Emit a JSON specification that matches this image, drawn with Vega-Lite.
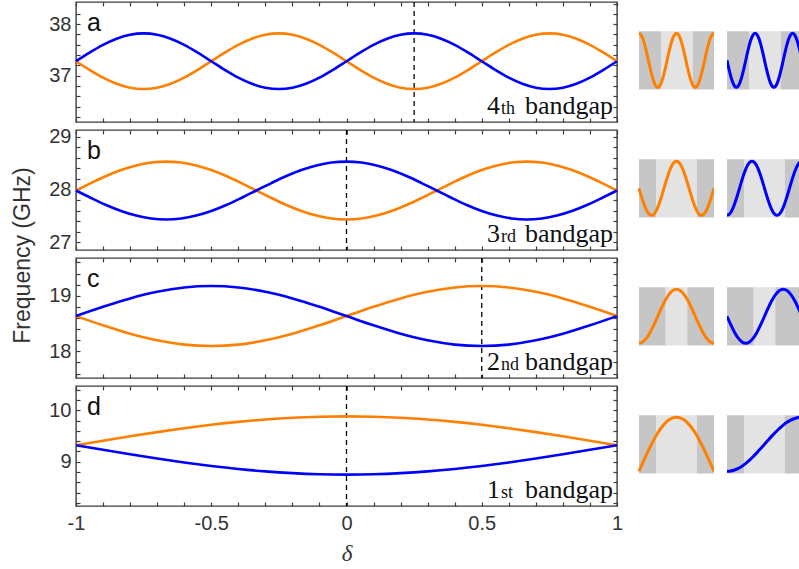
{
  "$schema": "https://vega.github.io/schema/vega-lite/v6.json",
  "padding": {"left": 11, "top": 0, "right": 0, "bottom": 0},
  "background": "white",
  "bounds": "flush",
  "columns": 3,
  "align": "each",
  "spacing": {"row": 8, "column": 13},
  "config": {
    "view": {"stroke": "#3c3c3c", "strokeWidth": 1.4},
    "axis": {"domain": false, "grid": false, "tickSize": -4, "tickColor": "#3c3c3c", "tickWidth": 1.2, "labelFont": "Liberation Sans", "labelFontSize": 20, "labelColor": "#333333", "labelPadding": 9, "titleFont": "Liberation Sans", "titleFontSize": 23, "titleFontWeight": "normal", "titleColor": "#333333", "labelFlush": false, "labelOverlap": false}
  },
  "datasets": {
    "labels": [
      {"p": "a", "letter": "a", "num": "4", "suf": "th", "gap": "bandgap", "v": 0.25},
      {"p": "b", "letter": "b", "num": "3", "suf": "rd", "gap": "bandgap", "v": 0},
      {"p": "c", "letter": "c", "num": "2", "suf": "nd", "gap": "bandgap", "v": 0.5},
      {"p": "d", "letter": "d", "num": "1", "suf": "st", "gap": "bandgap", "v": 0}
    ],
    "bands": [
      {"p":"a","d":-1,"o":37.28,"b":37.28},{"p":"a","d":-0.95,"o":37.113,"b":37.447},{"p":"a","d":-0.9,"o":36.962,"b":37.598},{"p":"a","d":-0.85,"o":36.843,"b":37.717},{"p":"a","d":-0.8,"o":36.766,"b":37.794},{"p":"a","d":-0.75,"o":36.74,"b":37.82},{"p":"a","d":-0.7,"o":36.766,"b":37.794},{"p":"a","d":-0.65,"o":36.843,"b":37.717},{"p":"a","d":-0.6,"o":36.962,"b":37.598},{"p":"a","d":-0.55,"o":37.113,"b":37.447},{"p":"a","d":-0.5,"o":37.28,"b":37.28},
      {"p":"a","d":-0.45,"o":37.447,"b":37.113},{"p":"a","d":-0.4,"o":37.598,"b":36.962},{"p":"a","d":-0.35,"o":37.717,"b":36.843},{"p":"a","d":-0.3,"o":37.794,"b":36.766},{"p":"a","d":-0.25,"o":37.82,"b":36.74},{"p":"a","d":-0.2,"o":37.794,"b":36.766},{"p":"a","d":-0.15,"o":37.717,"b":36.843},{"p":"a","d":-0.1,"o":37.598,"b":36.962},{"p":"a","d":-0.05,"o":37.447,"b":37.113},{"p":"a","d":0,"o":37.28,"b":37.28},
      {"p":"a","d":0.05,"o":37.113,"b":37.447},{"p":"a","d":0.1,"o":36.962,"b":37.598},{"p":"a","d":0.15,"o":36.843,"b":37.717},{"p":"a","d":0.2,"o":36.766,"b":37.794},{"p":"a","d":0.25,"o":36.74,"b":37.82},{"p":"a","d":0.3,"o":36.766,"b":37.794},{"p":"a","d":0.35,"o":36.843,"b":37.717},{"p":"a","d":0.4,"o":36.962,"b":37.598},{"p":"a","d":0.45,"o":37.113,"b":37.447},{"p":"a","d":0.5,"o":37.28,"b":37.28},
      {"p":"a","d":0.55,"o":37.447,"b":37.113},{"p":"a","d":0.6,"o":37.598,"b":36.962},{"p":"a","d":0.65,"o":37.717,"b":36.843},{"p":"a","d":0.7,"o":37.794,"b":36.766},{"p":"a","d":0.75,"o":37.82,"b":36.74},{"p":"a","d":0.8,"o":37.794,"b":36.766},{"p":"a","d":0.85,"o":37.717,"b":36.843},{"p":"a","d":0.9,"o":37.598,"b":36.962},{"p":"a","d":0.95,"o":37.447,"b":37.113},{"p":"a","d":1,"o":37.28,"b":37.28},
      {"p":"b","d":-1,"o":27.98,"b":27.98},{"p":"b","d":-0.9444,"o":28.122,"b":27.838},{"p":"b","d":-0.8889,"o":28.255,"b":27.705},{"p":"b","d":-0.8333,"o":28.369,"b":27.591},{"p":"b","d":-0.7778,"o":28.456,"b":27.504},{"p":"b","d":-0.7222,"o":28.511,"b":27.449},{"p":"b","d":-0.6667,"o":28.53,"b":27.43},{"p":"b","d":-0.6111,"o":28.511,"b":27.449},{"p":"b","d":-0.5556,"o":28.456,"b":27.504},{"p":"b","d":-0.5,"o":28.369,"b":27.591},{"p":"b","d":-0.4444,"o":28.255,"b":27.705},{"p":"b","d":-0.3889,"o":28.122,"b":27.838},{"p":"b","d":-0.3333,"o":27.98,"b":27.98},
      {"p":"b","d":-0.2778,"o":27.838,"b":28.122},{"p":"b","d":-0.2222,"o":27.705,"b":28.255},{"p":"b","d":-0.1667,"o":27.591,"b":28.369},{"p":"b","d":-0.1111,"o":27.504,"b":28.456},{"p":"b","d":-0.0556,"o":27.449,"b":28.511},{"p":"b","d":0,"o":27.43,"b":28.53},{"p":"b","d":0.0556,"o":27.449,"b":28.511},{"p":"b","d":0.1111,"o":27.504,"b":28.456},{"p":"b","d":0.1667,"o":27.591,"b":28.369},{"p":"b","d":0.2222,"o":27.705,"b":28.255},{"p":"b","d":0.2778,"o":27.838,"b":28.122},{"p":"b","d":0.3333,"o":27.98,"b":27.98},
      {"p":"b","d":0.3889,"o":28.122,"b":27.838},{"p":"b","d":0.4444,"o":28.255,"b":27.705},{"p":"b","d":0.5,"o":28.369,"b":27.591},{"p":"b","d":0.5556,"o":28.456,"b":27.504},{"p":"b","d":0.6111,"o":28.511,"b":27.449},{"p":"b","d":0.6667,"o":28.53,"b":27.43},{"p":"b","d":0.7222,"o":28.511,"b":27.449},{"p":"b","d":0.7778,"o":28.456,"b":27.504},{"p":"b","d":0.8333,"o":28.369,"b":27.591},{"p":"b","d":0.8889,"o":28.255,"b":27.705},{"p":"b","d":0.9444,"o":28.122,"b":27.838},{"p":"b","d":1,"o":27.98,"b":27.98},
      {"p":"c","d":-1,"o":18.635,"b":18.635},{"p":"c","d":-0.9,"o":18.468,"b":18.802},{"p":"c","d":-0.8,"o":18.317,"b":18.953},{"p":"c","d":-0.7,"o":18.198,"b":19.072},{"p":"c","d":-0.6,"o":18.121,"b":19.149},{"p":"c","d":-0.5,"o":18.095,"b":19.175},{"p":"c","d":-0.4,"o":18.121,"b":19.149},{"p":"c","d":-0.3,"o":18.198,"b":19.072},{"p":"c","d":-0.2,"o":18.317,"b":18.953},{"p":"c","d":-0.1,"o":18.468,"b":18.802},{"p":"c","d":0,"o":18.635,"b":18.635},
      {"p":"c","d":0.1,"o":18.802,"b":18.468},{"p":"c","d":0.2,"o":18.953,"b":18.317},{"p":"c","d":0.3,"o":19.072,"b":18.198},{"p":"c","d":0.4,"o":19.149,"b":18.121},{"p":"c","d":0.5,"o":19.175,"b":18.095},{"p":"c","d":0.6,"o":19.149,"b":18.121},{"p":"c","d":0.7,"o":19.072,"b":18.198},{"p":"c","d":0.8,"o":18.953,"b":18.317},{"p":"c","d":0.9,"o":18.802,"b":18.468},{"p":"c","d":1,"o":18.635,"b":18.635},
      {"p":"d","d":-1,"o":9.32,"b":9.32},{"p":"d","d":-0.9,"o":9.408,"b":9.231},{"p":"d","d":-0.8,"o":9.493,"b":9.144},{"p":"d","d":-0.7,"o":9.574,"b":9.061},{"p":"d","d":-0.6,"o":9.649,"b":8.985},{"p":"d","d":-0.5,"o":9.716,"b":8.917},{"p":"d","d":-0.4,"o":9.773,"b":8.859},{"p":"d","d":-0.3,"o":9.819,"b":8.812},{"p":"d","d":-0.2,"o":9.853,"b":8.778},{"p":"d","d":-0.1,"o":9.873,"b":8.757},{"p":"d","d":0,"o":9.88,"b":8.75},
      {"p":"d","d":0.1,"o":9.873,"b":8.757},{"p":"d","d":0.2,"o":9.853,"b":8.778},{"p":"d","d":0.3,"o":9.819,"b":8.812},{"p":"d","d":0.4,"o":9.773,"b":8.859},{"p":"d","d":0.5,"o":9.716,"b":8.917},{"p":"d","d":0.6,"o":9.649,"b":8.985},{"p":"d","d":0.7,"o":9.574,"b":9.061},{"p":"d","d":0.8,"o":9.493,"b":9.144},{"p":"d","d":0.9,"o":9.408,"b":9.231},{"p":"d","d":1,"o":9.32,"b":9.32}
    ],
    "modes": [
      {"p":"a","x":0,"o":0.93,"b":0},{"p":"a","x":0.025,"o":0.884,"b":-0.287},{"p":"a","x":0.05,"o":0.752,"b":-0.547},{"p":"a","x":0.075,"o":0.547,"b":-0.752},{"p":"a","x":0.1,"o":0.287,"b":-0.884},{"p":"a","x":0.125,"o":0,"b":-0.93},{"p":"a","x":0.15,"o":-0.287,"b":-0.884},{"p":"a","x":0.175,"o":-0.547,"b":-0.752},{"p":"a","x":0.2,"o":-0.752,"b":-0.547},{"p":"a","x":0.225,"o":-0.884,"b":-0.287},{"p":"a","x":0.25,"o":-0.93,"b":0},
      {"p":"a","x":0.275,"o":-0.884,"b":0.287},{"p":"a","x":0.3,"o":-0.752,"b":0.547},{"p":"a","x":0.325,"o":-0.547,"b":0.752},{"p":"a","x":0.35,"o":-0.287,"b":0.884},{"p":"a","x":0.375,"o":0,"b":0.93},{"p":"a","x":0.4,"o":0.287,"b":0.884},{"p":"a","x":0.425,"o":0.547,"b":0.752},{"p":"a","x":0.45,"o":0.752,"b":0.547},{"p":"a","x":0.475,"o":0.884,"b":0.287},{"p":"a","x":0.5,"o":0.93,"b":0},
      {"p":"a","x":0.525,"o":0.884,"b":-0.287},{"p":"a","x":0.55,"o":0.752,"b":-0.547},{"p":"a","x":0.575,"o":0.547,"b":-0.752},{"p":"a","x":0.6,"o":0.287,"b":-0.884},{"p":"a","x":0.625,"o":0,"b":-0.93},{"p":"a","x":0.65,"o":-0.287,"b":-0.884},{"p":"a","x":0.675,"o":-0.547,"b":-0.752},{"p":"a","x":0.7,"o":-0.752,"b":-0.547},{"p":"a","x":0.725,"o":-0.884,"b":-0.287},{"p":"a","x":0.75,"o":-0.93,"b":0},
      {"p":"a","x":0.775,"o":-0.884,"b":0.287},{"p":"a","x":0.8,"o":-0.752,"b":0.547},{"p":"a","x":0.825,"o":-0.547,"b":0.752},{"p":"a","x":0.85,"o":-0.287,"b":0.884},{"p":"a","x":0.875,"o":0,"b":0.93},{"p":"a","x":0.9,"o":0.287,"b":0.884},{"p":"a","x":0.925,"o":0.547,"b":0.752},{"p":"a","x":0.95,"o":0.752,"b":0.547},{"p":"a","x":0.975,"o":0.884,"b":0.287},{"p":"a","x":1,"o":0.93,"b":0},
      {"p":"b","x":0,"o":0,"b":-0.93},{"p":"b","x":0.0278,"o":-0.241,"b":-0.898},{"p":"b","x":0.0556,"o":-0.465,"b":-0.805},{"p":"b","x":0.0833,"o":-0.658,"b":-0.658},{"p":"b","x":0.1111,"o":-0.805,"b":-0.465},{"p":"b","x":0.1389,"o":-0.898,"b":-0.241},{"p":"b","x":0.1667,"o":-0.93,"b":0},{"p":"b","x":0.1944,"o":-0.898,"b":0.241},{"p":"b","x":0.2222,"o":-0.805,"b":0.465},{"p":"b","x":0.25,"o":-0.658,"b":0.658},{"p":"b","x":0.2778,"o":-0.465,"b":0.805},{"p":"b","x":0.3056,"o":-0.241,"b":0.898},{"p":"b","x":0.3333,"o":0,"b":0.93},
      {"p":"b","x":0.3611,"o":0.241,"b":0.898},{"p":"b","x":0.3889,"o":0.465,"b":0.805},{"p":"b","x":0.4167,"o":0.658,"b":0.658},{"p":"b","x":0.4444,"o":0.805,"b":0.465},{"p":"b","x":0.4722,"o":0.898,"b":0.241},{"p":"b","x":0.5,"o":0.93,"b":0},{"p":"b","x":0.5278,"o":0.898,"b":-0.241},{"p":"b","x":0.5556,"o":0.805,"b":-0.465},{"p":"b","x":0.5833,"o":0.658,"b":-0.658},{"p":"b","x":0.6111,"o":0.465,"b":-0.805},{"p":"b","x":0.6389,"o":0.241,"b":-0.898},{"p":"b","x":0.6667,"o":0,"b":-0.93},
      {"p":"b","x":0.6944,"o":-0.241,"b":-0.898},{"p":"b","x":0.7222,"o":-0.465,"b":-0.805},{"p":"b","x":0.75,"o":-0.658,"b":-0.658},{"p":"b","x":0.7778,"o":-0.805,"b":-0.465},{"p":"b","x":0.8056,"o":-0.898,"b":-0.241},{"p":"b","x":0.8333,"o":-0.93,"b":0},{"p":"b","x":0.8611,"o":-0.898,"b":0.241},{"p":"b","x":0.8889,"o":-0.805,"b":0.465},{"p":"b","x":0.9167,"o":-0.658,"b":0.658},{"p":"b","x":0.9444,"o":-0.465,"b":0.805},{"p":"b","x":0.9722,"o":-0.241,"b":0.898},{"p":"b","x":1,"o":0,"b":0.93},
      {"p":"c","x":0,"o":-0.93,"b":0},{"p":"c","x":0.05,"o":-0.884,"b":-0.287},{"p":"c","x":0.1,"o":-0.752,"b":-0.547},{"p":"c","x":0.15,"o":-0.547,"b":-0.752},{"p":"c","x":0.2,"o":-0.287,"b":-0.884},{"p":"c","x":0.25,"o":0,"b":-0.93},{"p":"c","x":0.3,"o":0.287,"b":-0.884},{"p":"c","x":0.35,"o":0.547,"b":-0.752},{"p":"c","x":0.4,"o":0.752,"b":-0.547},{"p":"c","x":0.45,"o":0.884,"b":-0.287},{"p":"c","x":0.5,"o":0.93,"b":0},
      {"p":"c","x":0.55,"o":0.884,"b":0.287},{"p":"c","x":0.6,"o":0.752,"b":0.547},{"p":"c","x":0.65,"o":0.547,"b":0.752},{"p":"c","x":0.7,"o":0.287,"b":0.884},{"p":"c","x":0.75,"o":0,"b":0.93},{"p":"c","x":0.8,"o":-0.287,"b":0.884},{"p":"c","x":0.85,"o":-0.547,"b":0.752},{"p":"c","x":0.9,"o":-0.752,"b":0.547},{"p":"c","x":0.95,"o":-0.884,"b":0.287},{"p":"c","x":1,"o":-0.93,"b":0},
      {"p":"d","x":0,"o":-0.93,"b":-0.93},{"p":"d","x":0.05,"o":-0.639,"b":-0.919},{"p":"d","x":0.1,"o":-0.355,"b":-0.885},{"p":"d","x":0.15,"o":-0.086,"b":-0.829},{"p":"d","x":0.2,"o":0.163,"b":-0.752},{"p":"d","x":0.25,"o":0.385,"b":-0.658},{"p":"d","x":0.3,"o":0.575,"b":-0.547},{"p":"d","x":0.35,"o":0.727,"b":-0.422},{"p":"d","x":0.4,"o":0.839,"b":-0.287},{"p":"d","x":0.45,"o":0.907,"b":-0.145},{"p":"d","x":0.5,"o":0.93,"b":0},
      {"p":"d","x":0.55,"o":0.907,"b":0.145},{"p":"d","x":0.6,"o":0.839,"b":0.287},{"p":"d","x":0.65,"o":0.727,"b":0.422},{"p":"d","x":0.7,"o":0.575,"b":0.547},{"p":"d","x":0.75,"o":0.385,"b":0.658},{"p":"d","x":0.8,"o":0.163,"b":0.752},{"p":"d","x":0.85,"o":-0.086,"b":0.829},{"p":"d","x":0.9,"o":-0.355,"b":0.885},{"p":"d","x":0.95,"o":-0.639,"b":0.919},{"p":"d","x":1,"o":-0.93,"b":0.93}
    ],
    "regions": [
      {"p":"a","x0":0,"x1":0.293,"s":"dark"},{"p":"a","x0":0.293,"x1":0.716,"s":"light"},{"p":"a","x0":0.716,"x1":1,"s":"dark"},
      {"p":"b","x0":0,"x1":0.227,"s":"dark"},{"p":"b","x0":0.227,"x1":0.773,"s":"light"},{"p":"b","x0":0.773,"x1":1,"s":"dark"},
      {"p":"c","x0":0,"x1":0.357,"s":"dark"},{"p":"c","x0":0.357,"x1":0.643,"s":"light"},{"p":"c","x0":0.643,"x1":1,"s":"dark"},
      {"p":"d","x0":0,"x1":0.227,"s":"dark"},{"p":"d","x0":0.227,"x1":0.773,"s":"light"},{"p":"d","x0":0.773,"x1":1,"s":"dark"}
    ]
  },
  "concat": [
    {
      "width": 541, "height": 120,
      "layer": [
        {"data": {"name": "labels"}, "transform": [{"filter": "datum.p == 'a'"}], "mark": {"type": "rule", "color": "#000000", "strokeWidth": 1.3, "strokeDash": [5, 4]}, "encoding": {"x": {"field": "v", "type": "quantitative", "axis": null}}},
        {"data": {"name": "bands"}, "transform": [{"filter": "datum.p == 'a'"}], "mark": {"type": "line", "color": "#ff8000", "strokeWidth": 2.6, "interpolate": "monotone"},
         "encoding": {
           "x": {"field": "d", "type": "quantitative", "scale": {"domain": [-1, 1], "nice": false}, "axis": {"orient": "bottom", "values": [-1,-0.9,-0.8,-0.7,-0.6,-0.5,-0.4,-0.3,-0.2,-0.1,0,0.1,0.2,0.3,0.4,0.5,0.6,0.7,0.8,0.9,1], "labels": false, "labelPadding": 0, "title": null}},
           "y": {"field": "o", "type": "quantitative", "scale": {"domain": [36.1, 38.43], "nice": false, "zero": false}, "axis": {"orient": "left", "values": [36.2,36.4,36.6,36.8,37,37.2,37.4,37.6,37.8,38,38.2], "labelExpr": "abs(datum.value-round(datum.value))<0.001 ? format(datum.value,'d') : ''", "title": null, "encode": {"ticks": {"update": {"x2": {"signal": "abs(datum.value-round(datum.value))<0.001 ? 8 : 4"}}}}}}
         }},
        {"data": {"name": "bands"}, "transform": [{"filter": "datum.p == 'a'"}], "mark": {"type": "line", "color": "#0000ff", "strokeWidth": 2.6, "interpolate": "monotone"},
         "encoding": {
           "x": {"field": "d", "type": "quantitative", "axis": {"orient": "top", "values": [-1,-0.9,-0.8,-0.7,-0.6,-0.5,-0.4,-0.3,-0.2,-0.1,0,0.1,0.2,0.3,0.4,0.5,0.6,0.7,0.8,0.9,1], "labels": false, "labelPadding": 0, "title": null}},
           "y": {"field": "b", "type": "quantitative", "axis": {"orient": "right", "values": [36.2,36.4,36.6,36.8,37,37.2,37.4,37.6,37.8,38,38.2,38.4], "labels": false, "labelPadding": 0, "title": null, "encode": {"ticks": {"update": {"x2": {"signal": "abs(datum.value-round(datum.value))<0.001 ? -8 : -4"}}}}}}
         }},
        {"data": {"name": "labels"}, "transform": [{"filter": "datum.p == 'a'"}], "mark": {"type": "text", "font": "Liberation Sans", "fontSize": 25, "align": "left", "baseline": "alphabetic", "dx": 11, "dy": 29, "color": "#111111"}, "encoding": {"x": {"datum": -1, "type": "quantitative", "axis": null}, "y": {"datum": 38.43, "type": "quantitative", "axis": null}, "text": {"field": "letter"}}},
        {"data": {"name": "labels"}, "transform": [{"filter": "datum.p == 'a'"}], "mark": {"type": "text", "font": "Liberation Serif", "fontSize": 26, "align": "right", "baseline": "alphabetic", "dx": -117, "dy": -8, "color": "#111111"}, "encoding": {"x": {"datum": 1, "type": "quantitative", "axis": null}, "y": {"datum": 36.1, "type": "quantitative", "axis": null}, "text": {"field": "num"}}},
        {"data": {"name": "labels"}, "transform": [{"filter": "datum.p == 'a'"}], "mark": {"type": "text", "font": "Liberation Serif", "fontSize": 18, "align": "left", "baseline": "alphabetic", "dx": -116, "dy": -8, "color": "#111111"}, "encoding": {"x": {"datum": 1, "type": "quantitative", "axis": null}, "y": {"datum": 36.1, "type": "quantitative", "axis": null}, "text": {"field": "suf"}}},
        {"data": {"name": "labels"}, "transform": [{"filter": "datum.p == 'a'"}], "mark": {"type": "text", "font": "Liberation Serif", "fontSize": 26, "align": "right", "baseline": "alphabetic", "dx": -4, "dy": -8, "color": "#111111"}, "encoding": {"x": {"datum": 1, "type": "quantitative", "axis": null}, "y": {"datum": 36.1, "type": "quantitative", "axis": null}, "text": {"field": "gap"}}}
      ],
      "resolve": {"axis": {"x": "independent", "y": "independent"}}
    },
    {
      "width": 84, "height": 120, "view": {"stroke": null},
      "layer": [
        {"data": {"name": "regions"}, "transform": [{"filter": "datum.p == 'a'"}], "mark": {"type": "rect", "clip": true},
         "encoding": {"x": {"field": "x0", "type": "quantitative", "scale": {"domain": [-0.12, 1], "nice": false, "zero": false}, "axis": null}, "x2": {"field": "x1"}, "y": {"datum": -1, "type": "quantitative", "scale": {"domain": [-2.12, 2], "nice": false, "zero": false}, "axis": null}, "y2": {"datum": 1}, "color": {"field": "s", "type": "nominal", "scale": {"domain": ["dark", "light"], "range": ["#c6c6c6", "#e3e3e3"]}, "legend": null}}},
        {"data": {"name": "modes"}, "transform": [{"filter": "datum.p == 'a'"}], "mark": {"type": "line", "color": "#ff8000", "strokeWidth": 3, "clip": true, "interpolate": "monotone"}, "encoding": {"x": {"field": "x", "type": "quantitative", "axis": null}, "y": {"field": "o", "type": "quantitative", "axis": null}}}
      ]
    },
    {
      "width": 72, "height": 120, "view": {"stroke": null},
      "layer": [
        {"data": {"name": "regions"}, "transform": [{"filter": "datum.p == 'a'"}], "mark": {"type": "rect", "clip": true},
         "encoding": {"x": {"field": "x0", "type": "quantitative", "scale": {"domain": [0, 0.96], "nice": false, "zero": false}, "axis": null}, "x2": {"field": "x1"}, "y": {"datum": -1, "type": "quantitative", "scale": {"domain": [-2.12, 2], "nice": false, "zero": false}, "axis": null}, "y2": {"datum": 1}, "color": {"field": "s", "type": "nominal", "scale": {"domain": ["dark", "light"], "range": ["#c6c6c6", "#e3e3e3"]}, "legend": null}}},
        {"data": {"name": "modes"}, "transform": [{"filter": "datum.p == 'a'"}], "mark": {"type": "line", "color": "#0000ff", "strokeWidth": 3, "clip": true, "interpolate": "monotone"}, "encoding": {"x": {"field": "x", "type": "quantitative", "axis": null}, "y": {"field": "b", "type": "quantitative", "axis": null}}}
      ]
    },
    {
      "width": 541, "height": 120,
      "layer": [
        {"data": {"name": "labels"}, "transform": [{"filter": "datum.p == 'b'"}], "mark": {"type": "rule", "color": "#000000", "strokeWidth": 1.3, "strokeDash": [5, 4]}, "encoding": {"x": {"field": "v", "type": "quantitative", "axis": null}}},
        {"data": {"name": "bands"}, "transform": [{"filter": "datum.p == 'b'"}], "mark": {"type": "line", "color": "#ff8000", "strokeWidth": 2.6, "interpolate": "monotone"},
         "encoding": {
           "x": {"field": "d", "type": "quantitative", "scale": {"domain": [-1, 1], "nice": false}, "axis": {"orient": "bottom", "values": [-1,-0.9,-0.8,-0.7,-0.6,-0.5,-0.4,-0.3,-0.2,-0.1,0,0.1,0.2,0.3,0.4,0.5,0.6,0.7,0.8,0.9,1], "labels": false, "labelPadding": 0, "title": null}},
           "y": {"field": "o", "type": "quantitative", "scale": {"domain": [26.85, 29.13], "nice": false, "zero": false}, "axis": {"orient": "left", "values": [27,27.2,27.4,27.6,27.8,28,28.2,28.4,28.6,28.8,29], "labelExpr": "abs(datum.value-round(datum.value))<0.001 ? format(datum.value,'d') : ''", "title": null, "encode": {"ticks": {"update": {"x2": {"signal": "abs(datum.value-round(datum.value))<0.001 ? 8 : 4"}}}}}}
         }},
        {"data": {"name": "bands"}, "transform": [{"filter": "datum.p == 'b'"}], "mark": {"type": "line", "color": "#0000ff", "strokeWidth": 2.6, "interpolate": "monotone"},
         "encoding": {
           "x": {"field": "d", "type": "quantitative", "axis": {"orient": "top", "values": [-1,-0.9,-0.8,-0.7,-0.6,-0.5,-0.4,-0.3,-0.2,-0.1,0,0.1,0.2,0.3,0.4,0.5,0.6,0.7,0.8,0.9,1], "labels": false, "labelPadding": 0, "title": null}},
           "y": {"field": "b", "type": "quantitative", "axis": {"orient": "right", "values": [27,27.2,27.4,27.6,27.8,28,28.2,28.4,28.6,28.8,29], "labels": false, "labelPadding": 0, "title": null, "encode": {"ticks": {"update": {"x2": {"signal": "abs(datum.value-round(datum.value))<0.001 ? -8 : -4"}}}}}}
         }},
        {"data": {"name": "labels"}, "transform": [{"filter": "datum.p == 'b'"}], "mark": {"type": "text", "font": "Liberation Sans", "fontSize": 25, "align": "left", "baseline": "alphabetic", "dx": 11, "dy": 29, "color": "#111111"}, "encoding": {"x": {"datum": -1, "type": "quantitative", "axis": null}, "y": {"datum": 29.13, "type": "quantitative", "axis": null}, "text": {"field": "letter"}}},
        {"data": {"name": "labels"}, "transform": [{"filter": "datum.p == 'b'"}], "mark": {"type": "text", "font": "Liberation Serif", "fontSize": 26, "align": "right", "baseline": "alphabetic", "dx": -117, "dy": -8, "color": "#111111"}, "encoding": {"x": {"datum": 1, "type": "quantitative", "axis": null}, "y": {"datum": 26.85, "type": "quantitative", "axis": null}, "text": {"field": "num"}}},
        {"data": {"name": "labels"}, "transform": [{"filter": "datum.p == 'b'"}], "mark": {"type": "text", "font": "Liberation Serif", "fontSize": 18, "align": "left", "baseline": "alphabetic", "dx": -116, "dy": -8, "color": "#111111"}, "encoding": {"x": {"datum": 1, "type": "quantitative", "axis": null}, "y": {"datum": 26.85, "type": "quantitative", "axis": null}, "text": {"field": "suf"}}},
        {"data": {"name": "labels"}, "transform": [{"filter": "datum.p == 'b'"}], "mark": {"type": "text", "font": "Liberation Serif", "fontSize": 26, "align": "right", "baseline": "alphabetic", "dx": -4, "dy": -8, "color": "#111111"}, "encoding": {"x": {"datum": 1, "type": "quantitative", "axis": null}, "y": {"datum": 26.85, "type": "quantitative", "axis": null}, "text": {"field": "gap"}}}
      ],
      "resolve": {"axis": {"x": "independent", "y": "independent"}}
    },
    {
      "width": 84, "height": 120, "view": {"stroke": null},
      "layer": [
        {"data": {"name": "regions"}, "transform": [{"filter": "datum.p == 'b'"}], "mark": {"type": "rect", "clip": true},
         "encoding": {"x": {"field": "x0", "type": "quantitative", "scale": {"domain": [-0.12, 1], "nice": false, "zero": false}, "axis": null}, "x2": {"field": "x1"}, "y": {"datum": -1, "type": "quantitative", "scale": {"domain": [-2.12, 2], "nice": false, "zero": false}, "axis": null}, "y2": {"datum": 1}, "color": {"field": "s", "type": "nominal", "scale": {"domain": ["dark", "light"], "range": ["#c6c6c6", "#e3e3e3"]}, "legend": null}}},
        {"data": {"name": "modes"}, "transform": [{"filter": "datum.p == 'b'"}], "mark": {"type": "line", "color": "#ff8000", "strokeWidth": 3, "clip": true, "interpolate": "monotone"}, "encoding": {"x": {"field": "x", "type": "quantitative", "axis": null}, "y": {"field": "o", "type": "quantitative", "axis": null}}}
      ]
    },
    {
      "width": 72, "height": 120, "view": {"stroke": null},
      "layer": [
        {"data": {"name": "regions"}, "transform": [{"filter": "datum.p == 'b'"}], "mark": {"type": "rect", "clip": true},
         "encoding": {"x": {"field": "x0", "type": "quantitative", "scale": {"domain": [0, 0.96], "nice": false, "zero": false}, "axis": null}, "x2": {"field": "x1"}, "y": {"datum": -1, "type": "quantitative", "scale": {"domain": [-2.12, 2], "nice": false, "zero": false}, "axis": null}, "y2": {"datum": 1}, "color": {"field": "s", "type": "nominal", "scale": {"domain": ["dark", "light"], "range": ["#c6c6c6", "#e3e3e3"]}, "legend": null}}},
        {"data": {"name": "modes"}, "transform": [{"filter": "datum.p == 'b'"}], "mark": {"type": "line", "color": "#0000ff", "strokeWidth": 3, "clip": true, "interpolate": "monotone"}, "encoding": {"x": {"field": "x", "type": "quantitative", "axis": null}, "y": {"field": "b", "type": "quantitative", "axis": null}}}
      ]
    },
    {
      "width": 541, "height": 120,
      "layer": [
        {"data": {"name": "labels"}, "transform": [{"filter": "datum.p == 'c'"}], "mark": {"type": "rule", "color": "#000000", "strokeWidth": 1.3, "strokeDash": [5, 4]}, "encoding": {"x": {"field": "v", "type": "quantitative", "axis": null}}},
        {"data": {"name": "bands"}, "transform": [{"filter": "datum.p == 'c'"}], "mark": {"type": "line", "color": "#ff8000", "strokeWidth": 2.6, "interpolate": "monotone"},
         "encoding": {
           "x": {"field": "d", "type": "quantitative", "scale": {"domain": [-1, 1], "nice": false}, "axis": {"orient": "bottom", "values": [-1,-0.9,-0.8,-0.7,-0.6,-0.5,-0.4,-0.3,-0.2,-0.1,0,0.1,0.2,0.3,0.4,0.5,0.6,0.7,0.8,0.9,1], "labels": false, "labelPadding": 0, "title": null}},
           "y": {"field": "o", "type": "quantitative", "scale": {"domain": [17.52, 19.68], "nice": false, "zero": false}, "axis": {"orient": "left", "values": [17.6,17.8,18,18.2,18.4,18.6,18.8,19,19.2,19.4,19.6], "labelExpr": "abs(datum.value-round(datum.value))<0.001 ? format(datum.value,'d') : ''", "title": "Frequency (GHz)", "titleY": -3, "titlePadding": 14, "encode": {"ticks": {"update": {"x2": {"signal": "abs(datum.value-round(datum.value))<0.001 ? 8 : 4"}}}}}}
         }},
        {"data": {"name": "bands"}, "transform": [{"filter": "datum.p == 'c'"}], "mark": {"type": "line", "color": "#0000ff", "strokeWidth": 2.6, "interpolate": "monotone"},
         "encoding": {
           "x": {"field": "d", "type": "quantitative", "axis": {"orient": "top", "values": [-1,-0.9,-0.8,-0.7,-0.6,-0.5,-0.4,-0.3,-0.2,-0.1,0,0.1,0.2,0.3,0.4,0.5,0.6,0.7,0.8,0.9,1], "labels": false, "labelPadding": 0, "title": null}},
           "y": {"field": "b", "type": "quantitative", "axis": {"orient": "right", "values": [17.6,17.8,18,18.2,18.4,18.6,18.8,19,19.2,19.4,19.6], "labels": false, "labelPadding": 0, "title": null, "encode": {"ticks": {"update": {"x2": {"signal": "abs(datum.value-round(datum.value))<0.001 ? -8 : -4"}}}}}}
         }},
        {"data": {"name": "labels"}, "transform": [{"filter": "datum.p == 'c'"}], "mark": {"type": "text", "font": "Liberation Sans", "fontSize": 25, "align": "left", "baseline": "alphabetic", "dx": 11, "dy": 29, "color": "#111111"}, "encoding": {"x": {"datum": -1, "type": "quantitative", "axis": null}, "y": {"datum": 19.68, "type": "quantitative", "axis": null}, "text": {"field": "letter"}}},
        {"data": {"name": "labels"}, "transform": [{"filter": "datum.p == 'c'"}], "mark": {"type": "text", "font": "Liberation Serif", "fontSize": 26, "align": "right", "baseline": "alphabetic", "dx": -117, "dy": -8, "color": "#111111"}, "encoding": {"x": {"datum": 1, "type": "quantitative", "axis": null}, "y": {"datum": 17.52, "type": "quantitative", "axis": null}, "text": {"field": "num"}}},
        {"data": {"name": "labels"}, "transform": [{"filter": "datum.p == 'c'"}], "mark": {"type": "text", "font": "Liberation Serif", "fontSize": 18, "align": "left", "baseline": "alphabetic", "dx": -116, "dy": -8, "color": "#111111"}, "encoding": {"x": {"datum": 1, "type": "quantitative", "axis": null}, "y": {"datum": 17.52, "type": "quantitative", "axis": null}, "text": {"field": "suf"}}},
        {"data": {"name": "labels"}, "transform": [{"filter": "datum.p == 'c'"}], "mark": {"type": "text", "font": "Liberation Serif", "fontSize": 26, "align": "right", "baseline": "alphabetic", "dx": -4, "dy": -8, "color": "#111111"}, "encoding": {"x": {"datum": 1, "type": "quantitative", "axis": null}, "y": {"datum": 17.52, "type": "quantitative", "axis": null}, "text": {"field": "gap"}}}
      ],
      "resolve": {"axis": {"x": "independent", "y": "independent"}}
    },
    {
      "width": 84, "height": 120, "view": {"stroke": null},
      "layer": [
        {"data": {"name": "regions"}, "transform": [{"filter": "datum.p == 'c'"}], "mark": {"type": "rect", "clip": true},
         "encoding": {"x": {"field": "x0", "type": "quantitative", "scale": {"domain": [-0.12, 1], "nice": false, "zero": false}, "axis": null}, "x2": {"field": "x1"}, "y": {"datum": -1, "type": "quantitative", "scale": {"domain": [-2.12, 2], "nice": false, "zero": false}, "axis": null}, "y2": {"datum": 1}, "color": {"field": "s", "type": "nominal", "scale": {"domain": ["dark", "light"], "range": ["#c6c6c6", "#e3e3e3"]}, "legend": null}}},
        {"data": {"name": "modes"}, "transform": [{"filter": "datum.p == 'c'"}], "mark": {"type": "line", "color": "#ff8000", "strokeWidth": 3, "clip": true, "interpolate": "monotone"}, "encoding": {"x": {"field": "x", "type": "quantitative", "axis": null}, "y": {"field": "o", "type": "quantitative", "axis": null}}}
      ]
    },
    {
      "width": 72, "height": 120, "view": {"stroke": null},
      "layer": [
        {"data": {"name": "regions"}, "transform": [{"filter": "datum.p == 'c'"}], "mark": {"type": "rect", "clip": true},
         "encoding": {"x": {"field": "x0", "type": "quantitative", "scale": {"domain": [0, 0.96], "nice": false, "zero": false}, "axis": null}, "x2": {"field": "x1"}, "y": {"datum": -1, "type": "quantitative", "scale": {"domain": [-2.12, 2], "nice": false, "zero": false}, "axis": null}, "y2": {"datum": 1}, "color": {"field": "s", "type": "nominal", "scale": {"domain": ["dark", "light"], "range": ["#c6c6c6", "#e3e3e3"]}, "legend": null}}},
        {"data": {"name": "modes"}, "transform": [{"filter": "datum.p == 'c'"}], "mark": {"type": "line", "color": "#0000ff", "strokeWidth": 3, "clip": true, "interpolate": "monotone"}, "encoding": {"x": {"field": "x", "type": "quantitative", "axis": null}, "y": {"field": "b", "type": "quantitative", "axis": null}}}
      ]
    },
    {
      "width": 541, "height": 120,
      "layer": [
        {"data": {"name": "labels"}, "transform": [{"filter": "datum.p == 'd'"}], "mark": {"type": "rule", "color": "#000000", "strokeWidth": 1.3, "strokeDash": [5, 4]}, "encoding": {"x": {"field": "v", "type": "quantitative", "axis": null}}},
        {"data": {"name": "bands"}, "transform": [{"filter": "datum.p == 'd'"}], "mark": {"type": "line", "color": "#ff8000", "strokeWidth": 2.6, "interpolate": "monotone"},
         "encoding": {
           "x": {"field": "d", "type": "quantitative", "scale": {"domain": [-1, 1], "nice": false}, "axis": {"orient": "bottom", "values": [-1,-0.9,-0.8,-0.7,-0.6,-0.5,-0.4,-0.3,-0.2,-0.1,0,0.1,0.2,0.3,0.4,0.5,0.6,0.7,0.8,0.9,1], "labelExpr": "datum.value == -1 ? '-1' : datum.value == -0.5 ? '-0.5' : datum.value == 0 ? '0' : datum.value == 0.5 ? '0.5' : datum.value == 1 ? '1' : ''", "labelPadding": 11, "title": "δ", "titleFont": "Liberation Serif", "titleFontStyle": "italic", "titleFontSize": 23, "titlePadding": 9, "encode": {"labels": {"update": {"dx": {"signal": "datum.value == -1 ? -5 : 0"}}}}}},
           "y": {"field": "o", "type": "quantitative", "scale": {"domain": [8.14, 10.47], "nice": false, "zero": false}, "axis": {"orient": "left", "values": [8.2,8.4,8.6,8.8,9,9.2,9.4,9.6,9.8,10,10.2,10.4], "labelExpr": "abs(datum.value-round(datum.value))<0.001 ? format(datum.value,'d') : ''", "title": null, "encode": {"ticks": {"update": {"x2": {"signal": "abs(datum.value-round(datum.value))<0.001 ? 8 : 4"}}}}}}
         }},
        {"data": {"name": "bands"}, "transform": [{"filter": "datum.p == 'd'"}], "mark": {"type": "line", "color": "#0000ff", "strokeWidth": 2.6, "interpolate": "monotone"},
         "encoding": {
           "x": {"field": "d", "type": "quantitative", "axis": {"orient": "top", "values": [-1,-0.9,-0.8,-0.7,-0.6,-0.5,-0.4,-0.3,-0.2,-0.1,0,0.1,0.2,0.3,0.4,0.5,0.6,0.7,0.8,0.9,1], "labels": false, "labelPadding": 0, "title": null}},
           "y": {"field": "b", "type": "quantitative", "axis": {"orient": "right", "values": [8.2,8.4,8.6,8.8,9,9.2,9.4,9.6,9.8,10,10.2,10.4], "labels": false, "labelPadding": 0, "title": null, "encode": {"ticks": {"update": {"x2": {"signal": "abs(datum.value-round(datum.value))<0.001 ? -8 : -4"}}}}}}
         }},
        {"data": {"name": "labels"}, "transform": [{"filter": "datum.p == 'd'"}], "mark": {"type": "text", "font": "Liberation Sans", "fontSize": 25, "align": "left", "baseline": "alphabetic", "dx": 11, "dy": 29, "color": "#111111"}, "encoding": {"x": {"datum": -1, "type": "quantitative", "axis": null}, "y": {"datum": 10.47, "type": "quantitative", "axis": null}, "text": {"field": "letter"}}},
        {"data": {"name": "labels"}, "transform": [{"filter": "datum.p == 'd'"}], "mark": {"type": "text", "font": "Liberation Serif", "fontSize": 26, "align": "right", "baseline": "alphabetic", "dx": -117, "dy": -8, "color": "#111111"}, "encoding": {"x": {"datum": 1, "type": "quantitative", "axis": null}, "y": {"datum": 8.14, "type": "quantitative", "axis": null}, "text": {"field": "num"}}},
        {"data": {"name": "labels"}, "transform": [{"filter": "datum.p == 'd'"}], "mark": {"type": "text", "font": "Liberation Serif", "fontSize": 18, "align": "left", "baseline": "alphabetic", "dx": -116, "dy": -8, "color": "#111111"}, "encoding": {"x": {"datum": 1, "type": "quantitative", "axis": null}, "y": {"datum": 8.14, "type": "quantitative", "axis": null}, "text": {"field": "suf"}}},
        {"data": {"name": "labels"}, "transform": [{"filter": "datum.p == 'd'"}], "mark": {"type": "text", "font": "Liberation Serif", "fontSize": 26, "align": "right", "baseline": "alphabetic", "dx": -4, "dy": -8, "color": "#111111"}, "encoding": {"x": {"datum": 1, "type": "quantitative", "axis": null}, "y": {"datum": 8.14, "type": "quantitative", "axis": null}, "text": {"field": "gap"}}}
      ],
      "resolve": {"axis": {"x": "independent", "y": "independent"}}
    },
    {
      "width": 84, "height": 120, "view": {"stroke": null},
      "layer": [
        {"data": {"name": "regions"}, "transform": [{"filter": "datum.p == 'd'"}], "mark": {"type": "rect", "clip": true},
         "encoding": {"x": {"field": "x0", "type": "quantitative", "scale": {"domain": [-0.12, 1], "nice": false, "zero": false}, "axis": null}, "x2": {"field": "x1"}, "y": {"datum": -1, "type": "quantitative", "scale": {"domain": [-2.12, 2], "nice": false, "zero": false}, "axis": null}, "y2": {"datum": 1}, "color": {"field": "s", "type": "nominal", "scale": {"domain": ["dark", "light"], "range": ["#c6c6c6", "#e3e3e3"]}, "legend": null}}},
        {"data": {"name": "modes"}, "transform": [{"filter": "datum.p == 'd'"}], "mark": {"type": "line", "color": "#ff8000", "strokeWidth": 3, "clip": true, "interpolate": "monotone"}, "encoding": {"x": {"field": "x", "type": "quantitative", "axis": null}, "y": {"field": "o", "type": "quantitative", "axis": null}}}
      ]
    },
    {
      "width": 72, "height": 120, "view": {"stroke": null},
      "layer": [
        {"data": {"name": "regions"}, "transform": [{"filter": "datum.p == 'd'"}], "mark": {"type": "rect", "clip": true},
         "encoding": {"x": {"field": "x0", "type": "quantitative", "scale": {"domain": [0, 0.96], "nice": false, "zero": false}, "axis": null}, "x2": {"field": "x1"}, "y": {"datum": -1, "type": "quantitative", "scale": {"domain": [-2.12, 2], "nice": false, "zero": false}, "axis": null}, "y2": {"datum": 1}, "color": {"field": "s", "type": "nominal", "scale": {"domain": ["dark", "light"], "range": ["#c6c6c6", "#e3e3e3"]}, "legend": null}}},
        {"data": {"name": "modes"}, "transform": [{"filter": "datum.p == 'd'"}], "mark": {"type": "line", "color": "#0000ff", "strokeWidth": 3, "clip": true, "interpolate": "monotone"}, "encoding": {"x": {"field": "x", "type": "quantitative", "axis": null}, "y": {"field": "b", "type": "quantitative", "axis": null}}}
      ]
    }
  ]
}
